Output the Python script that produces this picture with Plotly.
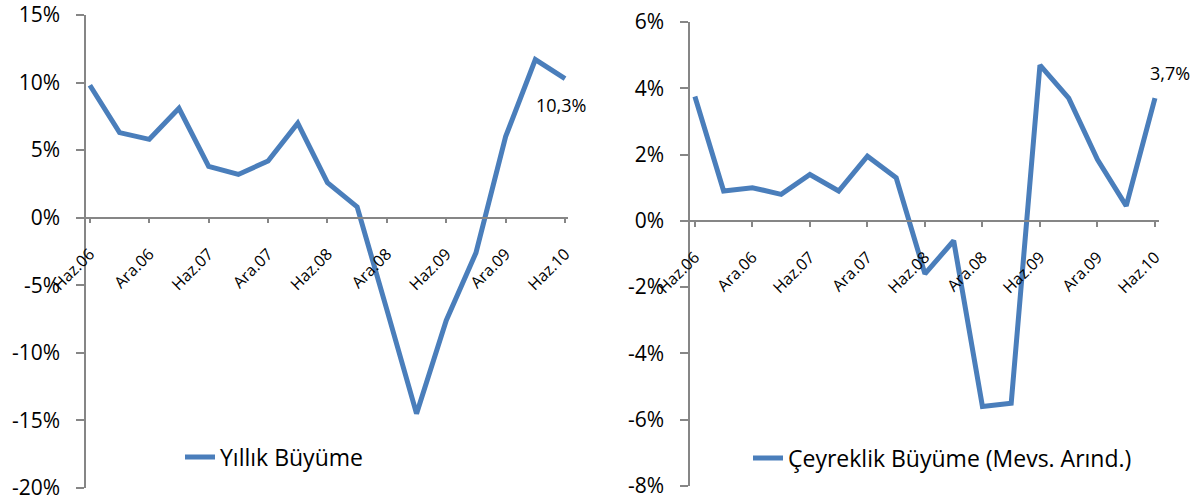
import plotly.graph_objects as go

W, H = 1201, 501

quarters = ["Haz.06", "Eyl.06", "Ara.06", "Mar.07", "Haz.07", "Eyl.07", "Ara.07", "Mar.08",
            "Haz.08", "Eyl.08", "Ara.08", "Mar.09", "Haz.09", "Eyl.09", "Ara.09", "Mar.10", "Haz.10"]
annual_growth = [9.8, 6.3, 5.8, 8.1, 3.8, 3.2, 4.2, 7.0, 2.6, 0.8, -6.8, -14.5, -7.6, -2.6, 6.0, 11.7, 10.3]
quarterly_growth = [3.75, 0.9, 1.0, 0.8, 1.4, 0.9, 1.95, 1.3, -1.6, -0.6, -5.6, -5.5, 4.7, 3.7, 1.85, 0.45, 3.7]
tick_labels = quarters[::2]
left_range = [-20, 15]
right_range = [-8, 6]
left_ticks = [-20, -15, -10, -5, 0, 5, 10, 15]
right_ticks = [-8, -6, -4, -2, 0, 2, 4, 6]
annual_name = "Yıllık Büyüme"
quarterly_name = "Çeyreklik Büyüme (Mevs. Arınd.)"

BLUE = "#4A7EBB"
GRAY = "#868686"
FONT = "Open Sans"

xi = list(range(len(quarters)))
tickpos = xi[::2]


def px_x(p):
    return p / W


def px_y(p):
    return 1 - p / H


def pct(v):
    return f"{v}%"


# domains in paper coords
lx = [px_x(86), px_x(568)]
ly = [px_y(488), px_y(15)]
rx = [px_x(690), px_x(1159)]
ry = [px_y(486), px_y(22)]


def zero_pos(dom, rng):
    return dom[0] + (0 - rng[0]) / (rng[1] - rng[0]) * (dom[1] - dom[0])


fig = go.Figure()
fig.add_trace(go.Scatter(x=xi, y=annual_growth, mode="lines", name=annual_name,
                         line=dict(color=BLUE, width=5), xaxis="x", yaxis="y", legend="legend"))
fig.add_trace(go.Scatter(x=xi, y=quarterly_growth, mode="lines", name=quarterly_name,
                         line=dict(color=BLUE, width=5), xaxis="x2", yaxis="y2", legend="legend2"))

xcommon = dict(showgrid=False, zeroline=False, showline=True, linecolor=GRAY, linewidth=1.5,
               ticks="outside", ticklen=5, tickwidth=1.5, tickcolor=GRAY, automargin=False,
               tickmode="array", tickvals=tickpos, ticktext=tick_labels, tickangle=-45,
               ticklabelstandoff=15, ticklabeloverflow="allow",
               tickfont=dict(family=FONT, size=16, color="black"))
ycommon = dict(showgrid=False, zeroline=False, showline=True, linecolor=GRAY, linewidth=1.5,
               ticks="outside", ticklen=8, tickwidth=1.5, tickcolor=GRAY, automargin=False,
               tickmode="array", ticklabelstandoff=12, ticklabeloverflow="allow",
               tickfont=dict(family=FONT, size=21, color="black"))

fig.update_layout(
    template="none",
    width=W, height=H,
    margin=dict(l=0, r=0, t=0, b=0, pad=0, autoexpand=False),
    paper_bgcolor="white", plot_bgcolor="white",
    font=dict(family=FONT, color="black"),
    xaxis=dict(domain=lx, range=[-0.13, 16.1], anchor="free",
               position=zero_pos(ly, left_range), **xcommon),
    yaxis=dict(domain=ly, range=left_range, anchor="x", tickvals=left_ticks,
               ticktext=[pct(v) for v in left_ticks], **ycommon),
    xaxis2=dict(domain=rx, range=[-0.17, 16.14], anchor="free",
                position=zero_pos(ry, right_range), **xcommon),
    yaxis2=dict(domain=ry, range=right_range, anchor="x2", tickvals=right_ticks,
                ticktext=[pct(v) for v in right_ticks], **ycommon),
    legend=dict(x=px_x(180), y=px_y(457), xanchor="left", yanchor="middle",
                bgcolor="rgba(0,0,0,0)", font=dict(family=FONT, size=23, color="black")),
    legend2=dict(x=px_x(748), y=px_y(458), xanchor="left", yanchor="middle",
                 bgcolor="rgba(0,0,0,0)", font=dict(family=FONT, size=23, color="black")),
    showlegend=True,
)

last = len(quarters) - 1
fig.add_annotation(x=xi[last], y=annual_growth[last], xref="x", yref="y",
                   text=f"{annual_growth[last]:.1f}%".replace(".", ","), showarrow=False,
                   font=dict(family=FONT, size=18, color="black"), xshift=-4, yshift=-26)
fig.add_annotation(x=xi[last], y=quarterly_growth[last], xref="x2", yref="y2",
                   text=f"{quarterly_growth[last]:.1f}%".replace(".", ","), showarrow=False,
                   font=dict(family=FONT, size=18, color="black"), xshift=15, yshift=25)

fig.write_html("out.html", config={"displayModeBar": False},
               post_script="document.body.style.margin='0';document.body.style.overflow='hidden';")
